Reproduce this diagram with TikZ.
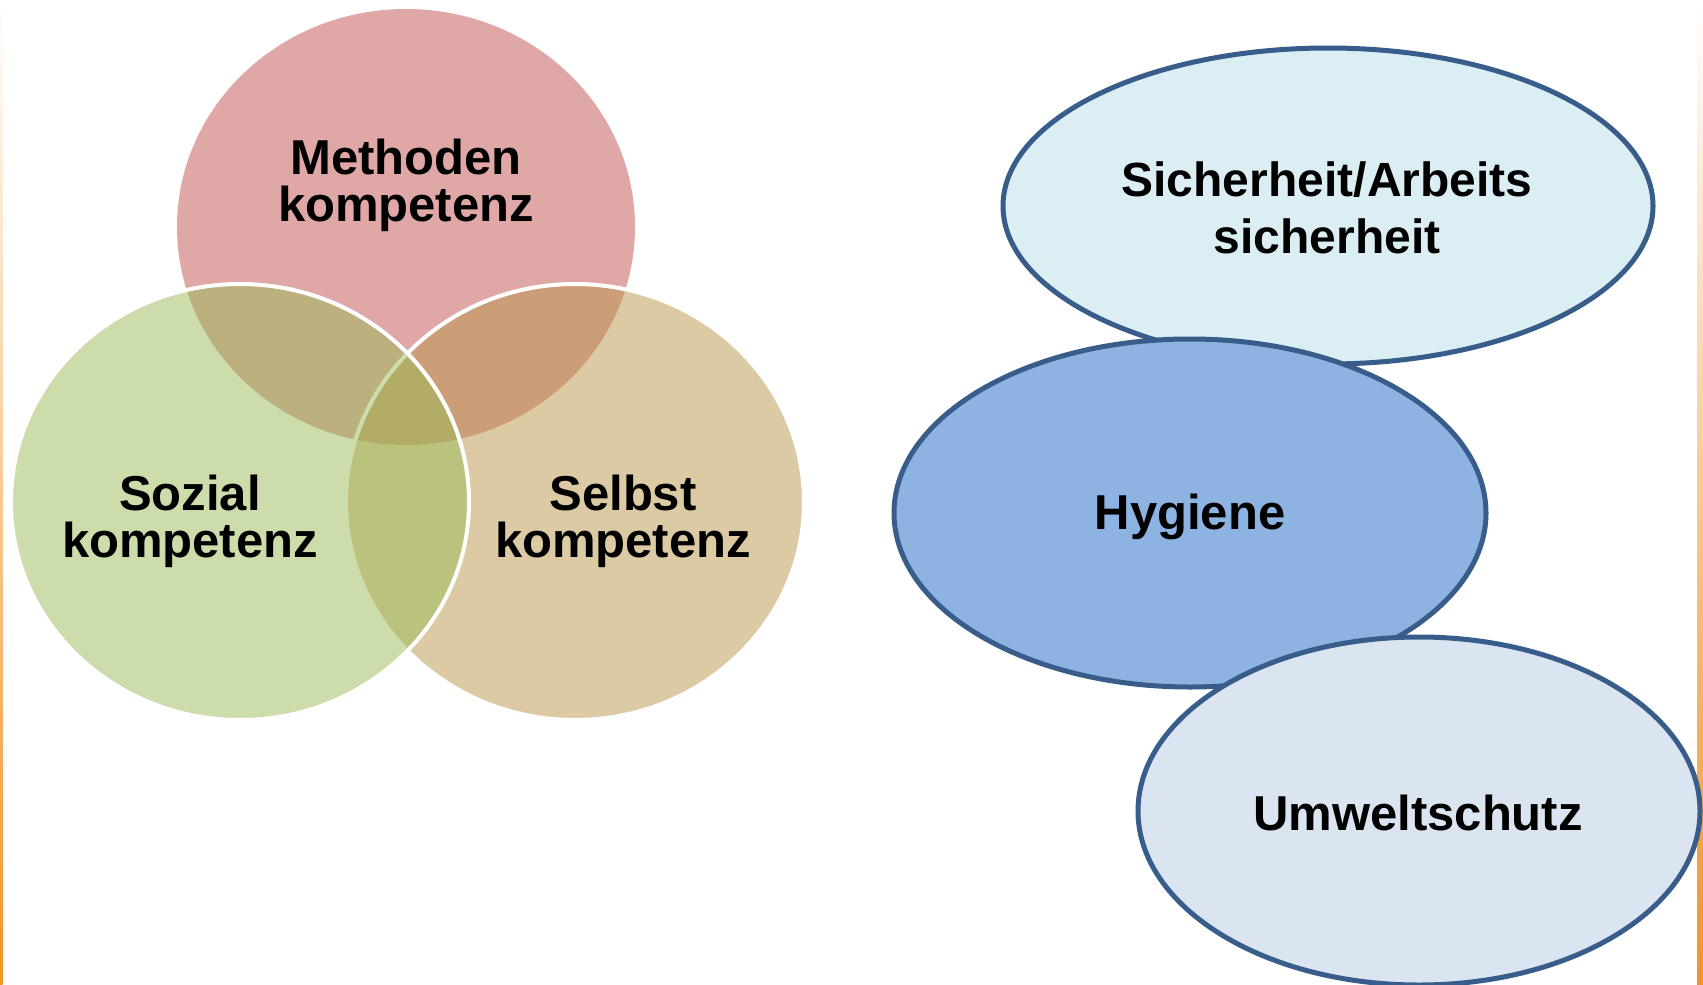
\documentclass[tikz,border=0pt]{standalone}
\usepackage{fontspec}
\setmainfont{Liberation Sans}
\usetikzlibrary{shapes.geometric, positioning}

\definecolor{redA}{RGB}{192,80,77}
\definecolor{greenA}{RGB}{155,187,89}
\definecolor{tanA}{RGB}{187,151,75}
\definecolor{lineB}{RGB}{56,93,138}
\definecolor{lightB}{RGB}{219,238,243}
\definecolor{midB}{RGB}{141,179,226}
\definecolor{paleB}{RGB}{219,229,241}
\definecolor{barO}{RGB}{241,148,38}

\begin{document}
\begin{tikzpicture}[x=0.5pt, y=-0.5pt,
    venn/.style={ellipse, minimum width=229pt, minimum height=218pt, fill opacity=0.5, inner sep=0pt},
    area/.style={ellipse, draw=lineB, line width=2.5pt, inner sep=0pt},
    lbl/.style={font=\bfseries\fontsize{24.5}{23.5}\selectfont, align=center, text=black}]
    \useasboundingbox (0,0) rectangle (1703,985);
    \fill[white] (0,0) rectangle (1703,985);

    % Bars
    \shade[top color=white, bottom color=barO] (0,0) rectangle (2.5,985);
    \shade[top color=white, bottom color=barO] (1697,0) rectangle (1703,985);

    % Venn
    \node[venn, fill=redA] (methode) at (406,227) {};
    \node[venn, fill=tanA, draw=white, line width=2pt] (selbst) at (575,502) {};
    \node[venn, fill=greenA, draw=white, line width=2pt] (sozial) at (240,502) {};

    \node[lbl] (tmethode) at (406,185) {Methoden\\kompetenz};
    \node[lbl] (tsozial) at (190,521) {Sozial\\kompetenz};
    \node[lbl] (tselbst) at (623,521) {Selbst\\kompetenz};

    % Ellipses
    \node[area, fill=lightB, minimum width=325pt, minimum height=158pt] (sicher) at (1328,206) {};
    \node[area, fill=midB, minimum width=296pt, minimum height=174pt] (hygiene) at (1190,513) {};
    \node[area, fill=paleB, minimum width=281pt, minimum height=174pt] (umwelt) at (1419,811) {};

    \node[lbl, font=\bfseries\fontsize{24}{28.75}\selectfont] (tsicher) at (1327,208) {Sicherheit/Arbeits\\sicherheit};
    \node[lbl] (thygiene) at (1190,517) {Hygiene};
    \node[lbl] (tumwelt) at (1418,813) {Umweltschutz};
\end{tikzpicture}
\end{document}
